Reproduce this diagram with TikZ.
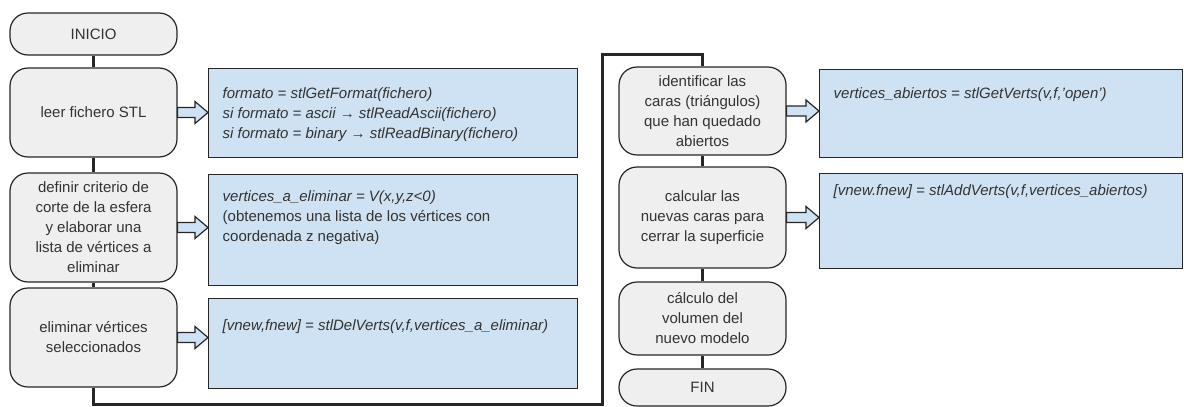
\documentclass[tikz,border=0pt]{standalone}
\usepackage{fontspec}
\setmainfont{Liberation Sans}
\usetikzlibrary{calc}
\definecolor{stepGray}{HTML}{EFEFEF}
\definecolor{codeBlue}{HTML}{CFE2F3}
\definecolor{lineDark}{HTML}{262626}
\definecolor{textDark}{HTML}{333333}
%% Text of a blue box: width, height, top gap, lines.
\newcommand{\codeText}[4]{%%
  \begin{minipage}[c][#2][t]{#1}\raggedright\vspace*{#3}#4\end{minipage}%%
}
\newcommand{\code}[1]{\textit{#1}}

\begin{document}
\begin{tikzpicture}[%%
  x=1pt,y=-1pt,
  font=\fontsize{15}{20}\selectfont,
  stepStyle/.style={draw=lineDark,fill=stepGray,line width=1.2pt,rounded corners=18pt,
    minimum width=167pt,align=center,inner sep=0pt,text=textDark},%%
  codeStyle/.style={draw=lineDark,fill=codeBlue,line width=1.4pt,anchor=north west,
    inner xsep=14pt,inner ysep=0pt,text=textDark},%%
  linkStyle/.style={draw=lineDark,line width=3pt},%%
  arrowStyle/.style={draw=lineDark,fill=codeBlue,line width=1.2pt,line join=miter},%%
  blockArrow/.style={to path={let \p1=(\tikztostart),\p2=(\tikztotarget) in
    (\x1,\y1+5pt) -- (\x2-13pt,\y1+5pt) -- (\x2-13pt,\y1+11pt) -- (\x2,\y1)
    -- (\x2-13pt,\y1-11pt) -- (\x2-13pt,\y1-5pt) -- (\x1,\y1-5pt) -- cycle}}
]
\useasboundingbox (0,0) rectangle (1184,407);
%%
%% The steps, left column.
\node[stepStyle,minimum height=42pt] (inicio) at (93.5,34) {INICIO};
\node[stepStyle,minimum height=89pt] (leer) at (93.5,112.5) {leer fichero STL};
\node[stepStyle,minimum height=109pt] (definir) at (93.5,227.5)
  {definir criterio de\\corte de la esfera\\y elaborar una\\lista de vértices a\\eliminar};
\node[stepStyle,minimum height=99pt] (eliminar) at (93.5,337.5)
  {eliminar vértices\\seleccionados};
%% The steps, right column.
\node[stepStyle,minimum height=88pt] (identificar) at (702.5,111)
  {identificar las\\caras (triángulos)\\que han quedado\\abiertos};
\node[stepStyle,minimum height=101pt] (calcular) at (702.5,217.5)
  {calcular las\\nuevas caras para\\cerrar la superficie};
\node[stepStyle,minimum height=73pt] (calculo) at (702.5,318.5)
  {cálculo del\\volumen del\\nuevo modelo};
\node[stepStyle,minimum height=37pt] (fin) at (702.5,387.5) {FIN};
%%
%% The code boxes.
\node[codeStyle] (leerCode) at (208,68) {\codeText{341pt}{89pt}{19pt}{%%
  \code{formato = stlGetFormat(fichero)}\\
  \code{si formato = ascii → stlReadAscii(fichero)}\\
  \code{si formato = binary → stlReadBinary(fichero)}}};
\node[codeStyle] (definirCode) at (208,174) {\codeText{341pt}{111pt}{16pt}{%%
  \code{vertices\_a\_eliminar = V(x,y,z<0)}\\
  (obtenemos una lista de los vértices con\\
  coordenada z negativa)}};
\node[codeStyle] (eliminarCode) at (208,298) {\codeText{341pt}{90pt}{21pt}{%%
  \code{[vnew,fnew] = stlDelVerts(v,f,vertices\_a\_eliminar)}}};
\node[codeStyle] (identificarCode) at (819,69) {\codeText{335pt}{88pt}{18pt}{%%
  \code{vertices\_abiertos = stlGetVerts(v,f,'open')}}};
\node[codeStyle] (calcularCode) at (819,173) {\codeText{335pt}{95pt}{11pt}{%%
  \code{[vnew.fnew] = stlAddVerts(v,f,vertices\_abiertos)}}};
%%
%% The links between the steps.
\coordinate (loopLow) at (602,404);
\coordinate (loopHigh) at (602,54);
\draw[linkStyle] (inicio) -- (leer);
\draw[linkStyle] (leer) -- (definir);
\draw[linkStyle] (definir) -- (eliminar);
\draw[linkStyle] (eliminar.south) |- (loopLow) -- (loopHigh) -| (identificar.north);
\draw[linkStyle] (identificar) -- (calcular);
\draw[linkStyle] (calcular) -- (calculo);
\draw[linkStyle] (calculo) -- (fin);
%%
%% The arrows to the code boxes.
\path[arrowStyle] (leer.east) to[blockArrow] (leerCode.west);
\path[arrowStyle] (definir.east) to[blockArrow] (definirCode.west);
\path[arrowStyle] (eliminar.east) to[blockArrow] (eliminarCode.west);
\path[arrowStyle] (identificar.east) to[blockArrow] (identificarCode.west);
\path[arrowStyle] (calcular.east) to[blockArrow] (calcularCode.west);
\end{tikzpicture}
\end{document}
